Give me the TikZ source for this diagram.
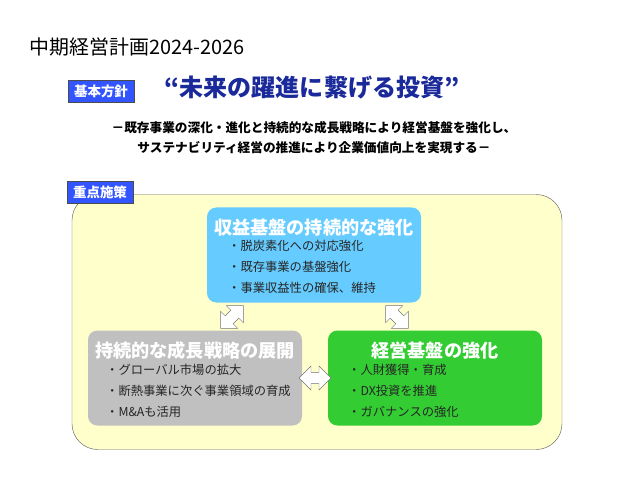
\documentclass[tikz,border=0pt]{standalone}
\usepackage{fontspec}
\setmainfont{Noto Sans CJK JP}
\usetikzlibrary{shapes.arrows}
\definecolor{tagblue}{HTML}{3355FF}
\definecolor{slogan}{HTML}{1A2A9A}
\definecolor{panel}{HTML}{FFFFCC}
\definecolor{skyfill}{HTML}{66CCFF}
\definecolor{grayfill}{HTML}{C0C0C0}
\definecolor{greenfill}{HTML}{33CC33}

\begin{document}
\begin{tikzpicture}[
    x=0.03cm, y=-0.03cm,
    tag/.style={rectangle, draw=black!70, thick, fill=tagblue, text=white, font=\fontsize{11.5}{13}\selectfont\bfseries, minimum width=66*0.03cm, minimum height=22*0.03cm, inner sep=0pt},
    pillar/.style={rectangle, rounded corners=8pt, minimum width=214*0.03cm, minimum height=95*0.03cm},
    head/.style={text=white, font=\fontsize{15.5}{17}\selectfont\bfseries},
    items/.style={align=left, anchor=north west, inner sep=0pt, font=\fontsize{10.5}{18}\selectfont, text=black!85},
    link/.style={double arrow, draw=black!55, fill=white, minimum height=32*0.03cm, minimum width=24*0.03cm, double arrow head extend=2.5pt, inner sep=2pt}
]
    \useasboundingbox (0,0) rectangle (625,486);

    % Header
    \node[font=\fontsize{17}{20}\selectfont] (title) at (137,47) {中期経営計画2024-2026};
    \node[tag] (policy) at (101,91) {基本方針};
    \node[text=slogan, font=\fontsize{20.5}{24}\selectfont\bfseries] (slogan) at (312,88) {“未来の躍進に繋げる投資”};
    \node[align=center, font=\fontsize{10.8}{17}\selectfont\bfseries] (sub) at (314,138)
        {－既存事業の深化・進化と持続的な成長戦略により経営基盤を強化し、\\サステナビリティ経営の推進により企業価値向上を実現する－};

    % Panel
    \node[rectangle, rounded corners=22pt, draw=black!60, fill=panel, minimum width=490*0.03cm, minimum height=255*0.03cm] (panel) at (317,322) {};
    \node[tag] (focus) at (100,192) {重点施策};

    % Pillars
    \node[pillar, fill=skyfill] (earn) at (314,255) {};
    \node[head] (earnhead) at (314,228) {収益基盤の持続的な強化};
    \node[items] (earnlist) at (228,240) {・脱炭素化への対応強化\\・既存事業の基盤強化\\・事業収益性の確保、維持};

    \node[pillar, fill=grayfill] (grow) at (195,378) {};
    \node[head] (growhead) at (195,351) {持続的な成長戦略の展開};
    \node[items] (growlist) at (106,364) {・グローバル市場の拡大\\・断熱事業に次ぐ事業領域の育成\\・M\&Aも活用};

    \node[pillar, fill=greenfill] (base) at (435,378) {};
    \node[head] (basehead) at (435,351) {経営基盤の強化};
    \node[items] (baselist) at (348,364) {・人財獲得・育成\\・DX投資を推進\\・ガバナンスの強化};

    % Links
    \node[link, rotate=45] (l1) at (232,317) {};
    \node[link, rotate=-45] (l2) at (397,317) {};
    \node[link] (l3) at (315,378) {};
\end{tikzpicture}
\end{document}
